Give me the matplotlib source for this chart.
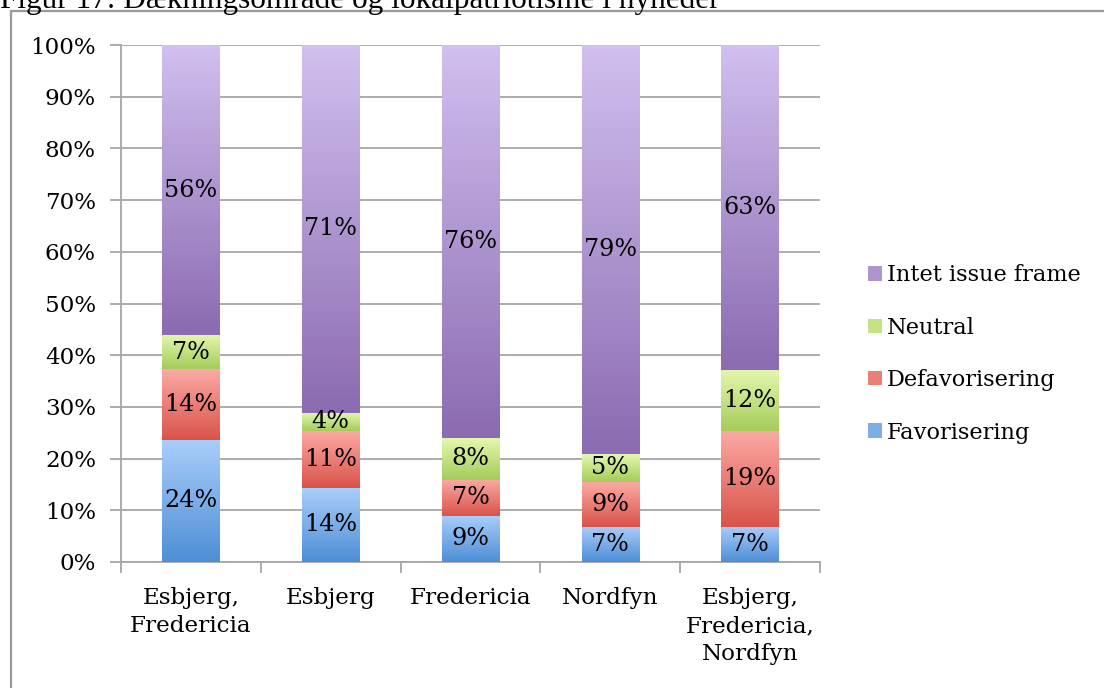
import numpy as np
import matplotlib
matplotlib.use("Agg")
import matplotlib.pyplot as plt
from matplotlib.colors import LinearSegmentedColormap
from matplotlib.patches import Patch, Rectangle

# data (percent of articles)
categories = ["Esbjerg,\nFredericia", "Esbjerg", "Fredericia", "Nordfyn",
              "Esbjerg,\nFredericia,\nNordfyn"]
favorisering = [23.6, 14.4, 8.9, 6.8, 6.8]
defavorisering = [13.7, 10.9, 7.0, 8.7, 18.6]
neutral = [6.6, 3.6, 8.1, 5.4, 11.8]
intet = [56.1, 71.1, 76.0, 79.1, 62.8]

series = [
    ("Favorisering", favorisering, "#a9cdfa", "#4e8fd6"),
    ("Defavorisering", defavorisering, "#fbaaa4", "#d9534a"),
    ("Neutral", neutral, "#e4f7ad", "#a5cc5a"),
    ("Intet issue frame", intet, "#d1bfee", "#8b6bb1"),
]

FONT = "DejaVu Serif"
FS = 16.6
GRID = "#a6a6a6"

fig = plt.figure(figsize=(11.04, 6.88), dpi=100)
ax = fig.add_axes([121 / 1104, 1 - 562 / 688, 699 / 1104, 517 / 688])

x = np.arange(len(categories))
bottom = np.zeros(len(categories))
handles = []
for name, vals, top_c, bot_c in series:
    vals = np.array(vals)
    bars = ax.bar(x, vals, 0.41, bottom=bottom, color="none", edgecolor="none", zorder=3)
    cmap = LinearSegmentedColormap.from_list(name, [bot_c, top_c])
    grad = np.linspace(0, 1, 64).reshape(-1, 1)
    for b, v in zip(bars, vals):
        x0, y0 = b.get_x(), b.get_y()
        ax.imshow(grad, cmap=cmap, origin="lower", aspect="auto", zorder=3,
                  extent=[x0, x0 + b.get_width(), y0, y0 + b.get_height()])
        ax.text(b.get_x() + b.get_width() / 2, y0 + v / 2, f"{v:.0f}%",
                ha="center", va="center", fontsize=FS + 0.6, family=FONT, zorder=4)
    bottom += vals
    handles.append(Patch(facecolor=cmap(0.5), edgecolor="none", label=name))

ax.set_xlim(-0.5, len(categories) - 0.5)
ax.set_ylim(0, 100)

ax.set_yticks(np.arange(0, 101, 10))
ax.set_yticklabels([f"{v}%" for v in range(0, 101, 10)], fontsize=FS, family=FONT)
ax.yaxis.grid(True, color=GRID, linewidth=1.3, zorder=0)
ax.set_axisbelow(True)

ax.set_xticks(x)
ax.set_xticklabels(categories, fontsize=FS, family=FONT, linespacing=1.35, va="top")
ax.set_xticks(np.arange(-0.5, len(categories), 1), minor=True)
ax.tick_params(axis="x", which="major", length=0, pad=18)
ax.tick_params(axis="x", which="minor", length=8, color=GRID, width=1.3)
ax.tick_params(axis="y", length=8, color=GRID, width=1.3, pad=10)

for s in ["top", "right"]:
    ax.spines[s].set_visible(False)
for s in ["left", "bottom"]:
    ax.spines[s].set_color(GRID)
    ax.spines[s].set_linewidth(1.3)

leg = fig.legend(handles=handles[::-1], loc="center left",
                 bbox_to_anchor=(868 / 1104, 1 - 354 / 688),
                 frameon=False, prop={"family": FONT, "size": FS - 0.4},
                 handlelength=0.6, handleheight=0.6, handletextpad=0.25,
                 labelspacing=1.35, borderpad=0, borderaxespad=0)

# chart border and clipped caption above it
fig.add_artist(Rectangle((11 / 1104, -0.1), 1.0, 1.1 - 11 / 688, transform=fig.transFigure,
                         fill=False, edgecolor="#999999", linewidth=1.6))
fig.text(0.0, 1 - 8 / 688, "Figur 17: Dækningsområde og lokalpatriotisme i nyheder",
         family="Liberation Serif", fontsize=22.5, va="baseline", ha="left")

fig.savefig("out.png", dpi=100)
